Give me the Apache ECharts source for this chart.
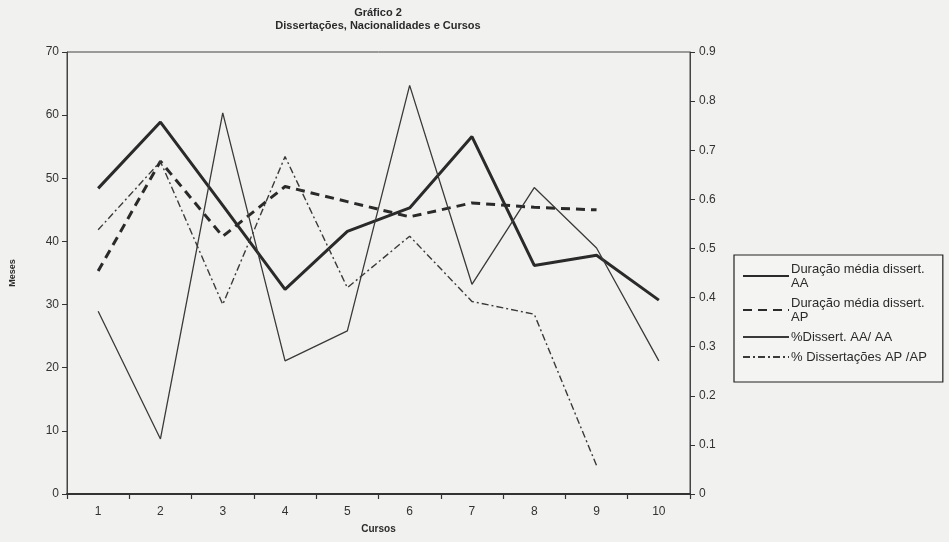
<!DOCTYPE html>
<html>
<head>
<meta charset="utf-8">
<script src="https://cdn.jsdelivr.net/npm/echarts@6/dist/echarts.min.js"></script>
<style>
html,body{margin:0;padding:0;background:#f1f1ef;}
#chart{width:949px;height:542px;}
</style>
</head>
<body>
<div id="chart"></div>
<script>
var categories = ['1','2','3','4','5','6','7','8','9','10'];
var seriesNames = ['Duração média dissert. AA','Duração média dissert. AP','%Dissert. AA/ AA','% Dissertações AP /AP'];
var legendLabels = ['Duração média dissert.\nAA','Duração média dissert.\nAP','%Dissert. AA/ AA','% Dissertações AP /AP'];
var duracaoAA = [48.4, 58.9, 45.7, 32.4, 41.6, 45.3, 56.6, 36.2, 37.8, 30.7];
var duracaoAP = [35.3, 52.7, 40.8, 48.7, 46.3, 43.9, 46.1, 45.4, 45.0, null];
var pctAA = [0.372, 0.112, 0.776, 0.271, 0.332, 0.832, 0.427, 0.624, 0.501, 0.271];
var pctAP = [0.538, 0.677, 0.386, 0.687, 0.420, 0.525, 0.392, 0.366, 0.058, null];
var titleLines = ['Gráfico 2','Dissertações, Nacionalidades e Cursos'];

var FONT = "'Liberation Sans Narrow', 'Liberation Sans', Arial, sans-serif";
var INK = '#2b2b2b';

var chart = echarts.init(document.getElementById('chart'));
chart.setOption({
  backgroundColor: '#f1f1ef',
  animation: false,
  title: {
    text: titleLines.join('\n'),
    left: 373, top: 1, textAlign: 'center',
    textStyle: {fontFamily: FONT, fontSize: 11, fontWeight: 'bold', color: INK, lineHeight: 13}
  },
  grid: {left: 65, right: 259, top: 52, bottom: 48, show: true, borderColor: '#444', borderWidth: 1, backgroundColor: 'transparent'},
  legend: {
    orient: 'vertical', left: 734, top: 255,
    padding: [7, 16, 18, 8],
    itemWidth: 46, itemHeight: 12, itemGap: 6,
    borderColor: '#222', borderWidth: 1.2, backgroundColor: '#f4f4f2',
    data: seriesNames,
    itemStyle: {opacity: 0},
    lineStyle: {opacity: 1},
    formatter: function (n) { return legendLabels[seriesNames.indexOf(n)]; },
    textStyle: {fontFamily: "'Liberation Sans', Arial, sans-serif", fontSize: 13, color: INK, lineHeight: 14, padding: [0,0,0,-3]}
  },
  xAxis: {
    type: 'category', data: categories, boundaryGap: true,
    name: 'Cursos', nameLocation: 'middle', nameGap: 30,
    nameTextStyle: {fontFamily: FONT, fontSize: 10, fontWeight: 'bold', color: INK},
    axisLine: {lineStyle: {color: '#333', width: 2}},
    axisTick: {show: true, length: 5, lineStyle: {color: '#333', width: 1.2}},
    axisLabel: {fontFamily: FONT, fontSize: 12, color: '#333', margin: 12}
  },
  yAxis: [{
    type: 'value', min: 0, max: 70, interval: 10,
    name: 'Meses', nameLocation: 'middle', nameGap: 50, nameRotate: 90,
    nameTextStyle: {fontFamily: FONT, fontSize: 9, fontWeight: 'bold', color: INK},
    axisLine: {show: true, lineStyle: {color: '#444', width: 1}},
    axisTick: {show: true, length: 5, lineStyle: {color: '#333'}},
    splitLine: {show: false},
    axisLabel: {fontFamily: FONT, fontSize: 12, color: '#333', margin: 8}
  }, {
    type: 'value', min: 0, max: 0.9, interval: 0.1, position: 'right',
    axisLine: {show: true, lineStyle: {color: '#444', width: 1}},
    axisTick: {show: true, length: 5, lineStyle: {color: '#333'}},
    splitLine: {show: false},
    axisLabel: {fontFamily: FONT, fontSize: 12, color: '#333', margin: 9,
      formatter: function (v) { return v === 0 ? '0' : String(Math.round(v * 10) / 10); }}
  }],
  series: [{
    name: seriesNames[0], type: 'line', data: duracaoAA, yAxisIndex: 0,
    symbol: 'none', lineStyle: {color: '#2a2a2a', width: 3}, itemStyle: {color: '#2a2a2a'}
  }, {
    name: seriesNames[1], type: 'line', data: duracaoAP, yAxisIndex: 0,
    symbol: 'none', lineStyle: {color: '#2a2a2a', width: 3, type: [9, 6]}, itemStyle: {color: '#2a2a2a'}
  }, {
    name: seriesNames[2], type: 'line', data: pctAA, yAxisIndex: 1,
    symbol: 'none', lineStyle: {color: '#3a3a3a', width: 1.3}, itemStyle: {color: '#3a3a3a'}
  }, {
    name: seriesNames[3], type: 'line', data: pctAP, yAxisIndex: 1,
    symbol: 'none', lineStyle: {color: '#3a3a3a', width: 1.4, type: [7, 3, 2, 3]}, itemStyle: {color: '#3a3a3a'}
  }]
});
</script>
</body>
</html>
